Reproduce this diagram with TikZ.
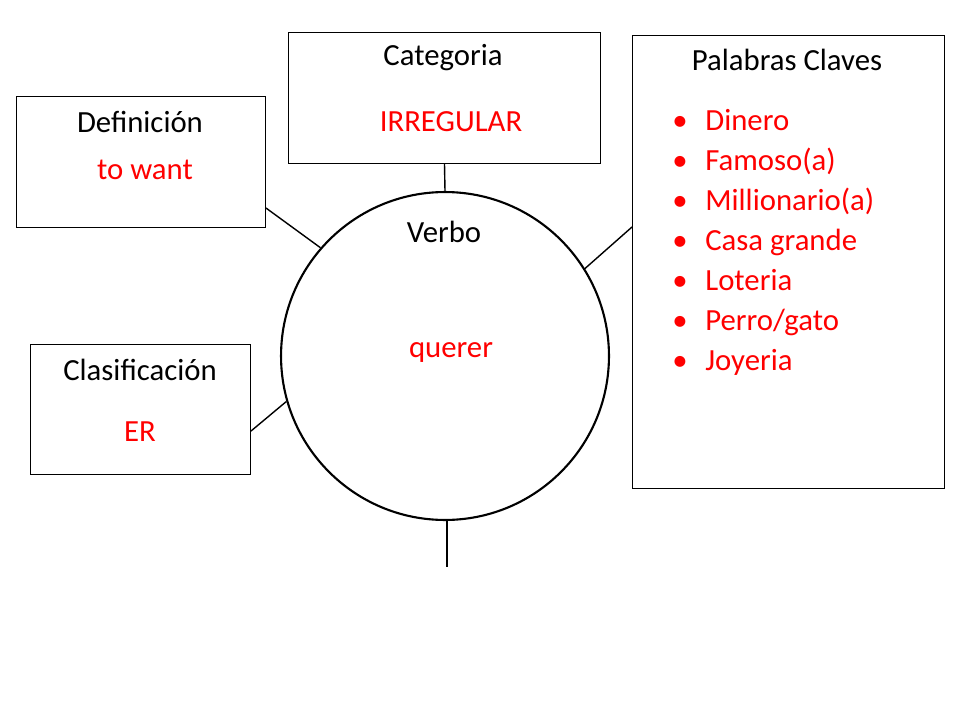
\documentclass[tikz,border=0pt]{standalone}
\usepackage{fontspec}
\setmainfont{Carlito}
\usetikzlibrary{calc}
\tikzset{
  infobox/.style={draw, rectangle, line width=0.6pt, anchor=north west},
  verbcirc/.style={draw, circle, line width=1.2pt, minimum size=6.56cm},
  ttl/.style={font=\fontsize{17.5}{21}\selectfont},
  val/.style={font=\fontsize{17.5}{21}\selectfont, text=red}
}
\begin{document}
\begin{tikzpicture}[x=0.02cm, y=-0.02cm]
  \useasboundingbox (0,0) rectangle (960,720);
  \node[infobox, minimum width=4.98cm, minimum height=2.62cm] (def) at (16,96) {};
  \node[infobox, minimum width=6.24cm, minimum height=2.62cm] (cat) at (288,32) {};
  \node[infobox, minimum width=6.24cm, minimum height=9.06cm] (pal) at (632,35) {};
  \node[infobox, minimum width=4.4cm, minimum height=2.6cm] (cla) at (30,344) {};
  \node[verbcirc] (verb) at (445,356) {};

  \node[ttl] (defT) at (140,122) {Definición};
  \node[val] (defV) at (145,170) {to want};
  \node[ttl] (catT) at (443,58) {Categoria};
  \node[val] (catV) at (451,122) {IRREGULAR};
  \node[ttl] (palT) at (787,60) {Palabras Claves};
  \node[ttl] (claT) at (140,370) {Clasificación};
  \node[val] (claV) at (140,432) {ER};
  \node[ttl] (verbT) at (444,232) {Verbo};
  \node[val] (verbV) at (451,353) {querer};

  \foreach \w [count=\i] in {Dinero,Famoso(a),Millionario(a),Casa grande,Loteria,Perro/gato,Joyeria}{
    \node[val, anchor=base west, inner sep=0pt] (kw\i) at (705,90+40*\i) {\w};
    \node[val, anchor=base, inner sep=0pt] (bul\i) at (680,90+40*\i) {•};
  }

  \coordinate (tail) at (447,567);
  \draw[line width=0.8pt] (cat.south) -- (verb.north);
  \draw[line width=0.8pt] ($(def.south east)+(0,-20)$) -- (verb.139);
  \draw[line width=0.8pt] ($(cla.south east)+(0,-44)$) -- (verb.196);
  \draw[line width=0.8pt] ($(pal.north west)+(0,192)$) -- (verb.32);
  \draw[line width=0.8pt] (verb.south -| tail) -- (tail);
\end{tikzpicture}
\end{document}
